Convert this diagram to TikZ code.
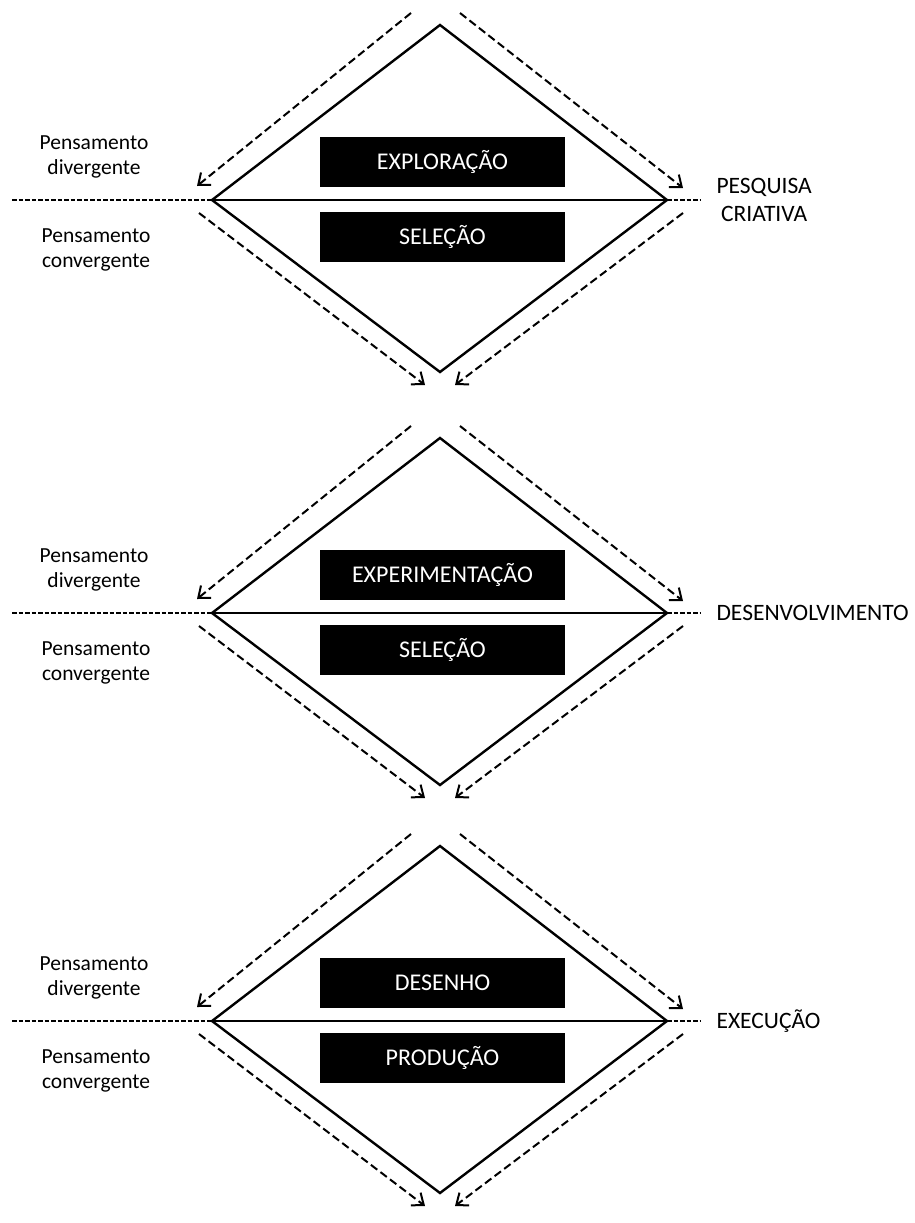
\documentclass[tikz,border=0pt]{standalone}
\usepackage{fontspec}
\setmainfont{Carlito}
\usetikzlibrary{arrows.meta}
\tikzset{
  diam/.style={line width=2.4pt, line join=miter},
  midline/.style={line width=2.6pt},
  ext/.style={line width=1.6pt, dash pattern=on 4.5pt off 2pt},
  flow/.style={line width=2pt, dash pattern=on 8pt off 4pt, -{Straight Barb[length=10pt,width=16pt,line width=2pt]}},
  stagebox/.style={fill=black, text=white, minimum width=245pt, minimum height=50pt, inner sep=0pt, font=\fontsize{24}{28}\selectfont},
  lefttext/.style={align=center, font=\fontsize{21.5}{25}\selectfont},
  righttext/.style={align=center, anchor=west, font=\fontsize{23.5}{28}\selectfont}
}
\newcommand\drawstage[5]{%
  % #1 = id, #2 = mid y, #3 = upper box text, #4 = lower box text, #5 = right label
  \coordinate (#1t) at (440,#2-175);
  \coordinate (#1l) at (212,#2);
  \coordinate (#1r) at (667,#2);
  \coordinate (#1b) at (440,#2+172);
  \coordinate (#1el) at (12,#2);
  \coordinate (#1er) at (700,#2);
  \draw[diam] (#1t) -- (#1r) -- (#1b) -- (#1l) -- cycle;
  \draw[midline] (#1l) -- (#1r);
  \draw[ext] (#1el) -- (#1l);
  \draw[ext] (#1r) -- (#1er);
  \coordinate (#1a1s) at (411,#2-187);
  \coordinate (#1a1e) at (197,#2-14);
  \coordinate (#1a2s) at (460,#2-187);
  \coordinate (#1a2e) at (683,#2-12);
  \coordinate (#1a3s) at (199,#2+13);
  \coordinate (#1a3e) at (425,#2+185);
  \coordinate (#1a4s) at (683,#2+13);
  \coordinate (#1a4e) at (455,#2+185);
  \draw[flow] (#1a1s) -- (#1a1e);
  \draw[flow] (#1a2s) -- (#1a2e);
  \draw[flow] (#1a3s) -- (#1a3e);
  \draw[flow] (#1a4s) -- (#1a4e);
  \node[stagebox] (#1up) at (442.5,#2-38) {#3};
  \node[stagebox] (#1dn) at (442.5,#2+37) {#4};
  \node[lefttext] (#1div) at (94,#2-43) {Pensamento\\divergente};
  \node[lefttext] (#1con) at (96,#2+50) {Pensamento\\convergente};
  \node[righttext] (#1lab) at (713,#2) {#5};
}
\begin{document}
\begin{tikzpicture}[x=1pt,y=-1pt]
\useasboundingbox (0,0) rectangle (914,1223);
\fill[white] (0,0) rectangle (914,1223);
\drawstage{s1}{200}{EXPLORAÇÃO}{SELEÇÃO}{PESQUISA\\CRIATIVA}
\drawstage{s2}{613}{EXPERIMENTAÇÃO}{SELEÇÃO}{DESENVOLVIMENTO}
\drawstage{s3}{1021}{DESENHO}{PRODUÇÃO}{EXECUÇÃO}
\end{tikzpicture}
\end{document}
